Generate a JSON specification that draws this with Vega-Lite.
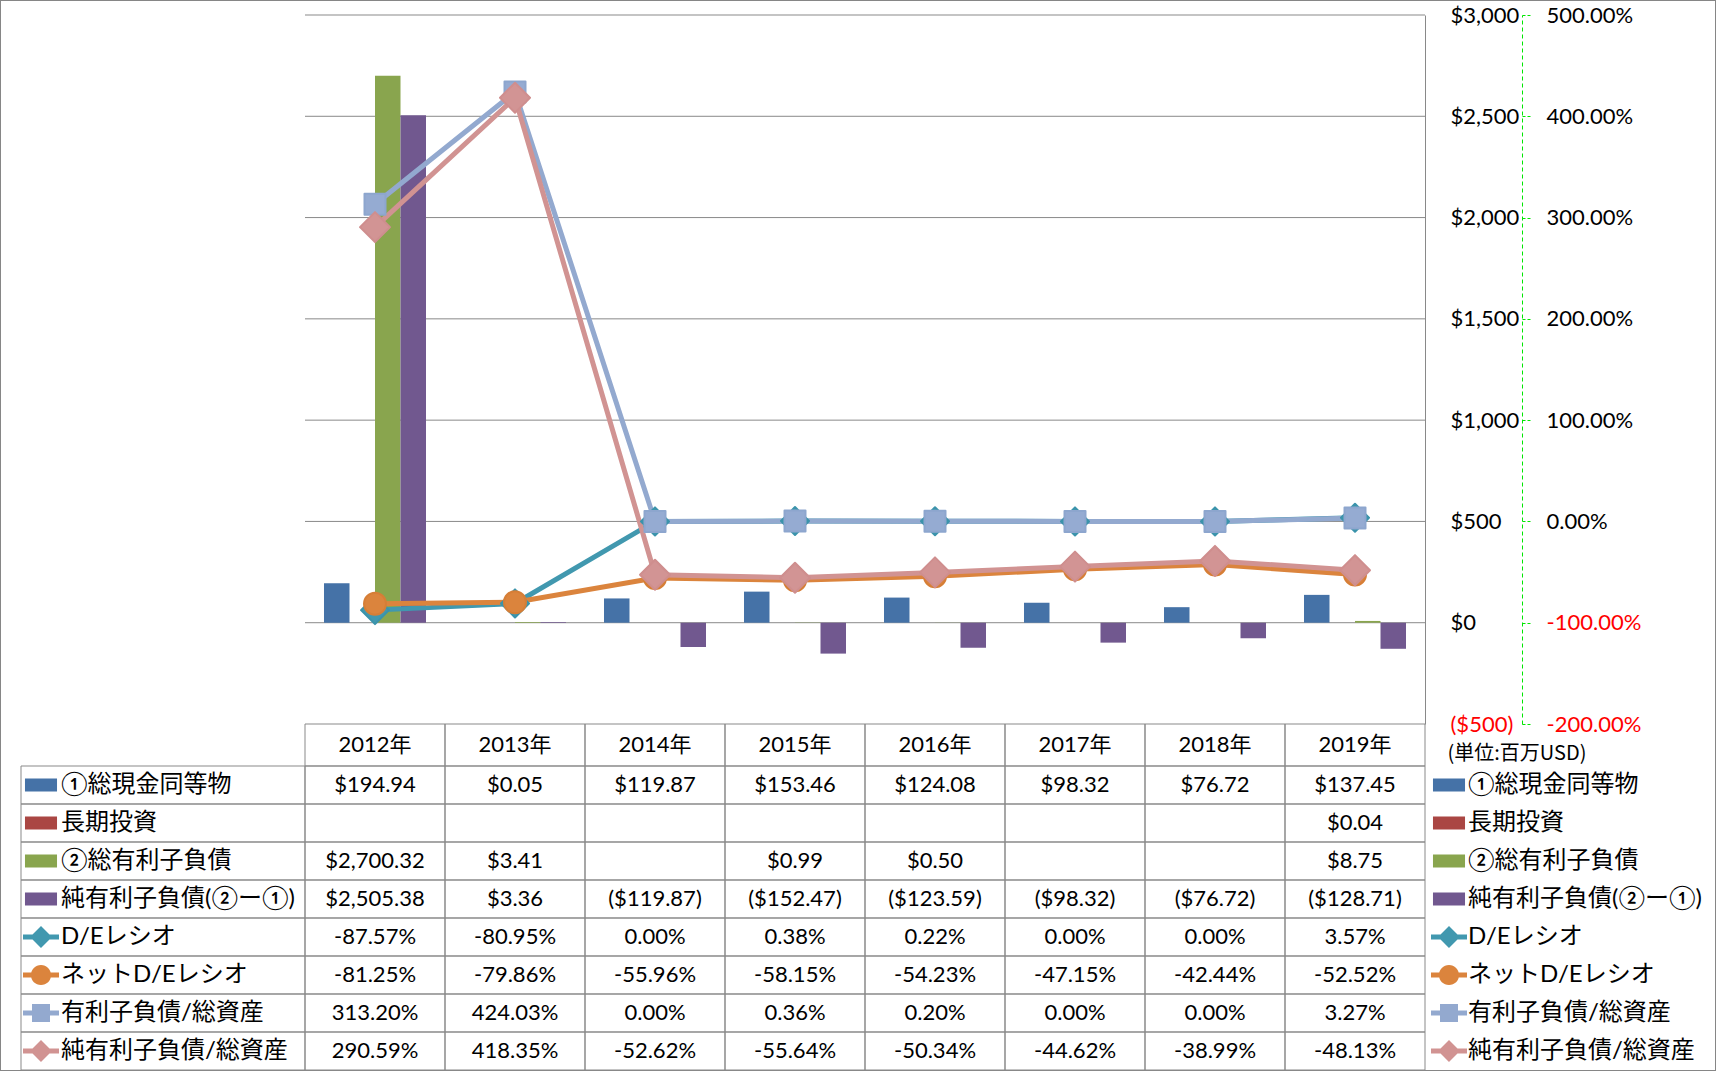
{
  "$schema": "https://vega.github.io/schema/vega-lite/v6.json",
  "width": 1716,
  "height": 1071,
  "autosize": "none",
  "padding": 0,
  "background": "white",
  "config": {
    "view": {"stroke": "#868686", "strokeWidth": 2},
    "font": "Lato, 'Noto Sans CJK JP'",
    "locale": {"number": {"decimal": ".", "thousands": ",", "grouping": [3], "currency": ["$", ""], "minus": "-"}}
  },
  "datasets": {
    "wide": [
      {"項目": "①総現金同等物", "2012年": 194.94, "2013年": 0.05, "2014年": 119.87, "2015年": 153.46, "2016年": 124.08, "2017年": 98.32, "2018年": 76.72, "2019年": 137.45},
      {"項目": "長期投資", "2012年": null, "2013年": null, "2014年": null, "2015年": null, "2016年": null, "2017年": null, "2018年": null, "2019年": 0.04},
      {"項目": "②総有利子負債", "2012年": 2700.32, "2013年": 3.41, "2014年": null, "2015年": 0.99, "2016年": 0.5, "2017年": null, "2018年": null, "2019年": 8.75},
      {"項目": "純有利子負債(②ー①)", "2012年": 2505.38, "2013年": 3.36, "2014年": -119.87, "2015年": -152.47, "2016年": -123.59, "2017年": -98.32, "2018年": -76.72, "2019年": -128.71},
      {"項目": "D/Eレシオ", "2012年": -0.8757, "2013年": -0.8095, "2014年": 0, "2015年": 0.0038, "2016年": 0.0022, "2017年": 0, "2018年": 0, "2019年": 0.0357},
      {"項目": "ネットD/Eレシオ", "2012年": -0.8125, "2013年": -0.7986, "2014年": -0.5596, "2015年": -0.5815, "2016年": -0.5423, "2017年": -0.4715, "2018年": -0.4244, "2019年": -0.5252},
      {"項目": "有利子負債/総資産", "2012年": 3.132, "2013年": 4.2403, "2014年": 0, "2015年": 0.0036, "2016年": 0.002, "2017年": 0, "2018年": 0, "2019年": 0.0327},
      {"項目": "純有利子負債/総資産", "2012年": 2.9059, "2013年": 4.1835, "2014年": -0.5262, "2015年": -0.5564, "2016年": -0.5034, "2017年": -0.4462, "2018年": -0.3899, "2019年": -0.4813}
    ],
    "years": [{"年": "2012年"}, {"年": "2013年"}, {"年": "2014年"}, {"年": "2015年"}, {"年": "2016年"}, {"年": "2017年"}, {"年": "2018年"}, {"年": "2019年"}],
    "grid": [{"v": 0}, {"v": 500}, {"v": 1000}, {"v": 1500}, {"v": 2000}, {"v": 2500}, {"v": 3000}]
  },
  "resolve": {
    "scale": {"x": "independent", "y": "independent", "color": "independent", "shape": "independent"},
    "legend": {"color": "independent", "shape": "independent"},
    "axis": {"x": "independent", "y": "independent"}
  },
  "layer": [
    {
      "data": {"name": "grid"},
      "mark": {"type": "rule", "color": "#898989", "strokeWidth": 1},
      "encoding": {
        "y": {"field": "v", "type": "quantitative", "scale": {"domain": [-500, 3000], "range": [724, 15], "nice": false}, "axis": null},
        "x": {"datum": 0, "type": "quantitative", "scale": {"domain": [0, 1], "range": [305, 1425]}, "axis": null},
        "x2": {"datum": 1}
      }
    },
    {
      "data": {"name": "wide"},
      "transform": [
        {"fold": ["2012年", "2013年", "2014年", "2015年", "2016年", "2017年", "2018年", "2019年"], "as": ["年", "値"]},
        {"filter": {"field": "項目", "oneOf": ["①総現金同等物", "長期投資", "②総有利子負債", "純有利子負債(②ー①)"]}},
        {"filter": {"field": "値", "valid": true}}
      ],
      "mark": {"type": "bar"},
      "encoding": {
        "x": {"field": "年", "type": "nominal", "scale": {"domain": ["2012年", "2013年", "2014年", "2015年", "2016年", "2017年", "2018年", "2019年"], "range": [305, 1425], "paddingInner": 0, "paddingOuter": 0}, "axis": null},
        "xOffset": {"field": "項目", "type": "nominal", "scale": {"domain": ["①総現金同等物", "長期投資", "②総有利子負債", "純有利子負債(②ー①)"], "paddingInner": 0, "paddingOuter": 0.745}},
        "y": {
          "field": "値", "type": "quantitative",
          "scale": {"domain": [-500, 3000], "range": [724, 15], "nice": false},
          "axis": {
            "orient": "right", "offset": -291,
            "values": [-500, 0, 500, 1000, 1500, 2000, 2500, 3000],
            "format": "($,.0f",
            "domain": true, "domainColor": "#898989", "domainWidth": 1,
            "ticks": true, "tickSize": 0, "grid": false,
            "labelPadding": 25, "labelFontSize": 22, "labelAlign": "left", "labelBaseline": "middle",
            "labelFlush": false, "labelOverlap": false,
            "labelColor": {"condition": {"test": "datum.value < 0", "value": "#FF0000"}, "value": "#000000"},
            "title": "(単位:百万USD)", "titleAngle": 0, "titleX": 22, "titleY": 753,
            "titleAlign": "left", "titleBaseline": "middle", "titleFontSize": 20, "titleFontWeight": "normal",
            "titleFont": "'Noto Sans CJK JP'", "titleColor": "#000000"
          }
        },
        "color": {"field": "項目", "type": "nominal", "scale": {"domain": ["①総現金同等物", "長期投資", "②総有利子負債", "純有利子負債(②ー①)"], "range": ["#4572A7", "#AA4643", "#89A54E", "#71588F"]}, "legend": null}
      }
    },
    {
      "data": {"name": "wide"},
      "transform": [
        {"fold": ["2012年", "2013年", "2014年", "2015年", "2016年", "2017年", "2018年", "2019年"], "as": ["年", "値"]},
        {"filter": {"field": "項目", "oneOf": ["D/Eレシオ", "ネットD/Eレシオ", "有利子負債/総資産", "純有利子負債/総資産"]}}
      ],
      "encoding": {
        "x": {"field": "年", "type": "nominal", "scale": {"domain": ["2012年", "2013年", "2014年", "2015年", "2016年", "2017年", "2018年", "2019年"], "range": [305, 1425], "paddingInner": 0, "paddingOuter": 0}, "axis": null},
        "y": {
          "field": "値", "type": "quantitative",
          "scale": {"domain": [-2, 5], "range": [724, 15], "nice": false},
          "axis": {
            "orient": "right", "offset": -194,
            "values": [-2, -1, 0, 1, 2, 3, 4, 5],
            "format": ".2%",
            "domain": true, "domainColor": "#00E600", "domainWidth": 1, "domainDash": [4, 3],
            "ticks": true, "tickSize": 8, "tickColor": "#00E600", "tickWidth": 1, "tickDash": [3, 2],
            "grid": false,
            "labelPadding": 16, "labelFontSize": 22, "labelAlign": "left", "labelBaseline": "middle",
            "labelFlush": false, "labelOverlap": false,
            "labelColor": {"condition": {"test": "datum.value < 0", "value": "#FF0000"}, "value": "#000000"},
            "title": null
          }
        }
      },
      "layer": [
        {
          "mark": {"type": "line", "strokeWidth": 5},
          "encoding": {
            "color": {"field": "項目", "type": "nominal", "scale": {"domain": ["D/Eレシオ", "ネットD/Eレシオ", "有利子負債/総資産", "純有利子負債/総資産"], "range": ["#4198AF", "#DB843D", "#93A9CF", "#D19392"]}, "legend": null}
          }
        },
        {
          "transform": [{"filter": {"field": "項目", "equal": "D/Eレシオ"}}],
          "mark": {"type": "point", "shape": "diamond", "filled": true, "opacity": 1, "size": 784, "color": "#4198AF", "stroke": "#3A93AB", "strokeWidth": 2, "strokeJoin": "round"}
        },
        {
          "transform": [{"filter": {"field": "項目", "equal": "ネットD/Eレシオ"}}],
          "mark": {"type": "point", "shape": "circle", "filled": true, "opacity": 1, "size": 484, "color": "#DB843D", "stroke": "#D67E36", "strokeWidth": 2}
        },
        {
          "transform": [{"filter": {"field": "項目", "equal": "有利子負債/総資産"}}],
          "mark": {"type": "point", "shape": "square", "filled": true, "opacity": 1, "size": 441, "color": "#95ABD2", "stroke": "#8DA6CE", "strokeWidth": 2, "strokeJoin": "round"}
        },
        {
          "transform": [{"filter": {"field": "項目", "equal": "純有利子負債/総資産"}}],
          "mark": {"type": "point", "shape": "diamond", "filled": true, "opacity": 1, "size": 900, "color": "#D29494", "stroke": "#CF8E8E", "strokeWidth": 2, "strokeJoin": "round"}
        }
      ]
    },
    {
      "data": {"name": "wide"},
      "transform": [
        {"fold": ["2012年", "2013年", "2014年", "2015年", "2016年", "2017年", "2018年", "2019年"], "as": ["年", "値"]}
      ],
      "mark": {"type": "rect", "filled": false, "stroke": "#898989", "strokeWidth": 1},
      "encoding": {
        "x": {"field": "年", "type": "nominal", "scale": {"domain": ["2012年", "2013年", "2014年", "2015年", "2016年", "2017年", "2018年", "2019年"], "range": [305, 1425], "paddingInner": 0, "paddingOuter": 0}, "axis": null},
        "y": {"field": "項目", "type": "nominal", "scale": {"domain": ["①総現金同等物", "長期投資", "②総有利子負債", "純有利子負債(②ー①)", "D/Eレシオ", "ネットD/Eレシオ", "有利子負債/総資産", "純有利子負債/総資産"], "range": [766, 1070], "paddingInner": 0, "paddingOuter": 0}, "axis": null}
      }
    },
    {
      "data": {"name": "wide"},
      "mark": {"type": "rect", "filled": false, "stroke": "#898989", "strokeWidth": 1},
      "encoding": {
        "x": {"datum": "項目", "type": "nominal", "scale": {"domain": ["項目"], "range": [21, 305], "paddingInner": 0, "paddingOuter": 0}, "axis": null},
        "y": {"field": "項目", "type": "nominal", "scale": {"domain": ["①総現金同等物", "長期投資", "②総有利子負債", "純有利子負債(②ー①)", "D/Eレシオ", "ネットD/Eレシオ", "有利子負債/総資産", "純有利子負債/総資産"], "range": [766, 1070], "paddingInner": 0, "paddingOuter": 0}, "axis": null}
      }
    },
    {
      "data": {"name": "years"},
      "encoding": {
        "x": {"field": "年", "type": "nominal", "scale": {"domain": ["2012年", "2013年", "2014年", "2015年", "2016年", "2017年", "2018年", "2019年"], "range": [305, 1425], "paddingInner": 0, "paddingOuter": 0}, "axis": null},
        "y": {"datum": "年", "type": "nominal", "scale": {"domain": ["年"], "range": [724, 766], "paddingInner": 0, "paddingOuter": 0}, "axis": null}
      },
      "layer": [
        {"mark": {"type": "rect", "filled": false, "stroke": "#898989", "strokeWidth": 1}},
        {"mark": {"type": "text", "fontSize": 22, "color": "#000000"}, "encoding": {"text": {"field": "年"}}}
      ]
    },
    {
      "data": {"name": "wide"},
      "transform": [
        {"fold": ["2012年", "2013年", "2014年", "2015年", "2016年", "2017年", "2018年", "2019年"], "as": ["年", "値"]},
        {"filter": {"field": "値", "valid": true}},
        {"filter": {"field": "項目", "oneOf": ["①総現金同等物", "長期投資", "②総有利子負債", "純有利子負債(②ー①)"]}}
      ],
      "mark": {"type": "text", "fontSize": 22, "color": "#000000"},
      "encoding": {
        "x": {"field": "年", "type": "nominal", "scale": {"domain": ["2012年", "2013年", "2014年", "2015年", "2016年", "2017年", "2018年", "2019年"], "range": [305, 1425], "paddingInner": 0, "paddingOuter": 0}, "axis": null},
        "y": {"field": "項目", "type": "nominal", "scale": {"domain": ["①総現金同等物", "長期投資", "②総有利子負債", "純有利子負債(②ー①)", "D/Eレシオ", "ネットD/Eレシオ", "有利子負債/総資産", "純有利子負債/総資産"], "range": [766, 1070], "paddingInner": 0, "paddingOuter": 0}, "axis": null},
        "text": {"field": "値", "type": "quantitative", "format": "($,.2f"}
      }
    },
    {
      "data": {"name": "wide"},
      "transform": [
        {"fold": ["2012年", "2013年", "2014年", "2015年", "2016年", "2017年", "2018年", "2019年"], "as": ["年", "値"]},
        {"filter": {"field": "値", "valid": true}},
        {"filter": {"field": "項目", "oneOf": ["D/Eレシオ", "ネットD/Eレシオ", "有利子負債/総資産", "純有利子負債/総資産"]}}
      ],
      "mark": {"type": "text", "fontSize": 22, "color": "#000000"},
      "encoding": {
        "x": {"field": "年", "type": "nominal", "scale": {"domain": ["2012年", "2013年", "2014年", "2015年", "2016年", "2017年", "2018年", "2019年"], "range": [305, 1425], "paddingInner": 0, "paddingOuter": 0}, "axis": null},
        "y": {"field": "項目", "type": "nominal", "scale": {"domain": ["①総現金同等物", "長期投資", "②総有利子負債", "純有利子負債(②ー①)", "D/Eレシオ", "ネットD/Eレシオ", "有利子負債/総資産", "純有利子負債/総資産"], "range": [766, 1070], "paddingInner": 0, "paddingOuter": 0}, "axis": null},
        "text": {"field": "値", "type": "quantitative", "format": ".2%"}
      }
    },
    {
      "data": {"name": "wide"},
      "mark": {"type": "point", "filled": true, "opacity": 0},
      "encoding": {
        "color": {
          "field": "項目", "type": "nominal",
          "scale": {"domain": ["①総現金同等物", "長期投資", "②総有利子負債", "純有利子負債(②ー①)", "D/Eレシオ", "ネットD/Eレシオ", "有利子負債/総資産", "純有利子負債/総資産"], "range": ["#4572A7", "#AA4643", "#89A54E", "#71588F", "#4198AF", "#DB843D", "#93A9CF", "#D19392"]},
          "legend": {"orient": "none", "legendX": 23, "legendY": 766, "direction": "vertical", "title": null, "padding": 0, "rowPadding": 0, "clipHeight": 38, "symbolSize": 1296, "symbolStrokeWidth": 0, "symbolOpacity": 1, "symbolOffset": 0, "labelOffset": 2, "labelFontSize": 24, "labelFont": "Lato, 'Noto Sans CJK JP'", "labelLimit": 600, "labelBaseline": "middle", "labelColor": "#000000"}
        },
        "shape": {
          "field": "項目", "type": "nominal",
          "scale": {"domain": ["①総現金同等物", "長期投資", "②総有利子負債", "純有利子負債(②ー①)", "D/Eレシオ", "ネットD/Eレシオ", "有利子負債/総資産", "純有利子負債/総資産"], "range": ["M-0.89,-0.36H0.89V0.36H-0.89Z", "M-0.89,-0.36H0.89V0.36H-0.89Z", "M-0.89,-0.36H0.89V0.36H-0.89Z", "M-0.89,-0.36H0.89V0.36H-0.89Z", "M-1,-0.14H1V0.14H-1Z M0,-0.61L0.61,0L0,0.61L-0.61,0Z", "M-1,-0.14H1V0.14H-1Z M-0.56,0A0.56,0.56,0,1,1,0.56,0A0.56,0.56,0,1,1,-0.56,0Z", "M-1,-0.14H1V0.14H-1Z M-0.5,-0.5H0.5V0.5H-0.5Z", "M-1,-0.14H1V0.14H-1Z M0,-0.61L0.61,0L0,0.61L-0.61,0Z"]},
          "legend": {"orient": "none", "legendX": 23, "legendY": 766, "direction": "vertical", "title": null, "padding": 0, "rowPadding": 0, "clipHeight": 38, "symbolSize": 1296, "symbolStrokeWidth": 0, "symbolOpacity": 1, "symbolOffset": 0, "labelOffset": 2, "labelFontSize": 24, "labelFont": "Lato, 'Noto Sans CJK JP'", "labelLimit": 600, "labelBaseline": "middle", "labelColor": "#000000"}
        }
      }
    },
    {
      "data": {"name": "wide"},
      "mark": {"type": "point", "filled": true, "opacity": 0},
      "encoding": {
        "color": {
          "field": "項目", "type": "nominal",
          "scale": {"domain": ["①総現金同等物", "長期投資", "②総有利子負債", "純有利子負債(②ー①)", "D/Eレシオ", "ネットD/Eレシオ", "有利子負債/総資産", "純有利子負債/総資産"], "range": ["#4572A7", "#AA4643", "#89A54E", "#71588F", "#4198AF", "#DB843D", "#93A9CF", "#D19392"]},
          "legend": {"orient": "none", "legendX": 1431, "legendY": 766, "direction": "vertical", "title": null, "padding": 0, "rowPadding": 0, "clipHeight": 38, "symbolSize": 1296, "symbolStrokeWidth": 0, "symbolOpacity": 1, "symbolOffset": 0, "labelOffset": 1, "labelFontSize": 24, "labelFont": "Lato, 'Noto Sans CJK JP'", "labelLimit": 600, "labelBaseline": "middle", "labelColor": "#000000"}
        },
        "shape": {
          "field": "項目", "type": "nominal",
          "scale": {"domain": ["①総現金同等物", "長期投資", "②総有利子負債", "純有利子負債(②ー①)", "D/Eレシオ", "ネットD/Eレシオ", "有利子負債/総資産", "純有利子負債/総資産"], "range": ["M-0.89,-0.36H0.89V0.36H-0.89Z", "M-0.89,-0.36H0.89V0.36H-0.89Z", "M-0.89,-0.36H0.89V0.36H-0.89Z", "M-0.89,-0.36H0.89V0.36H-0.89Z", "M-1,-0.14H1V0.14H-1Z M0,-0.61L0.61,0L0,0.61L-0.61,0Z", "M-1,-0.14H1V0.14H-1Z M-0.56,0A0.56,0.56,0,1,1,0.56,0A0.56,0.56,0,1,1,-0.56,0Z", "M-1,-0.14H1V0.14H-1Z M-0.5,-0.5H0.5V0.5H-0.5Z", "M-1,-0.14H1V0.14H-1Z M0,-0.61L0.61,0L0,0.61L-0.61,0Z"]},
          "legend": {"orient": "none", "legendX": 1431, "legendY": 766, "direction": "vertical", "title": null, "padding": 0, "rowPadding": 0, "clipHeight": 38, "symbolSize": 1296, "symbolStrokeWidth": 0, "symbolOpacity": 1, "symbolOffset": 0, "labelOffset": 1, "labelFontSize": 24, "labelFont": "Lato, 'Noto Sans CJK JP'", "labelLimit": 600, "labelBaseline": "middle", "labelColor": "#000000"}
        }
      }
    }
  ]
}
